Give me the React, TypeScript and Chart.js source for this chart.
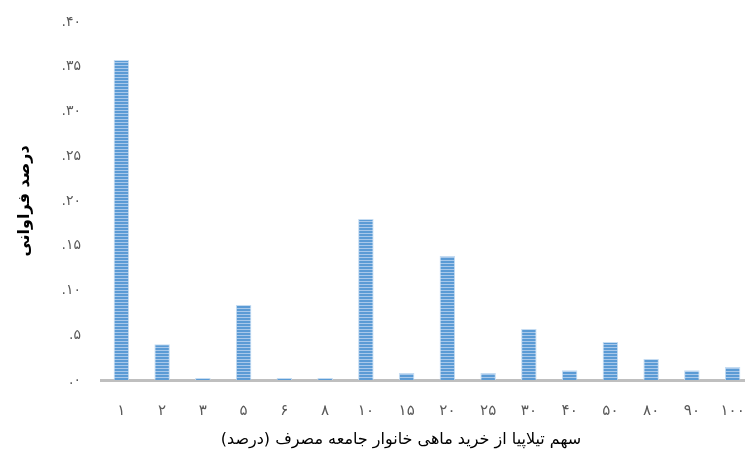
import React, { useEffect, useRef } from "react";
import { Chart, registerables } from "chart.js";

Chart.register(...registerables);

const categories = ["۱", "۲", "۳", "۵", "۶", "۸", "۱۰", "۱۵", "۲۰", "۲۵", "۳۰", "۴۰", "۵۰", "۸۰", "۹۰", "۱۰۰"];
const frequencies = [0.3575, 0.040, 0.0022, 0.0838, 0.0022, 0.0022, 0.180, 0.0078, 0.1385, 0.0078, 0.057, 0.011, 0.0425, 0.0235, 0.011, 0.0145];
const yTickLabels = [".۰", ".۵", ".۱۰", ".۱۵", ".۲۰", ".۲۵", ".۳۰", ".۳۵", ".۴۰"];
const xTitle = "سهم تیلاپیا از خرید ماهی خانوار جامعه مصرف (درصد)";
const yTitle = "درصد فراوانی";

const FONT = "'DejaVu Sans', 'Noto Sans', sans-serif";

function makePattern(): CanvasPattern | string {
  const c = document.createElement("canvas");
  c.width = 4;
  c.height = 3;
  const ctx = c.getContext("2d");
  if (!ctx) return "#5b9bd5";
  ctx.fillStyle = "#5b9bd5";
  ctx.fillRect(0, 0, 4, 3);
  ctx.fillStyle = "#a8c8ea";
  ctx.fillRect(0, 2, 4, 1);
  const p = ctx.createPattern(c, "repeat");
  return p || "#5b9bd5";
}

const xTitlePlugin = {
  id: "xTitlePlugin",
  afterDraw(chart: any) {
    const { ctx, chartArea } = chart;
    ctx.save();
    ctx.font = `16px ${FONT}`;
    ctx.fillStyle = "#000000";
    ctx.textAlign = "center";
    ctx.textBaseline = "middle";
    const cx = (chartArea.left + chartArea.right) / 2 - 26;
    ctx.fillText(xTitle, cx, chartArea.bottom + 60);
    ctx.restore();
  },
};

export default function App() {
  const ref = useRef<HTMLCanvasElement | null>(null);
  useEffect(() => {
    if (!ref.current) return;
    const chart = new Chart(ref.current, {
      type: "bar",
      data: {
        labels: categories,
        datasets: [
          {
            data: frequencies,
            backgroundColor: makePattern() as any,
            borderColor: "#c5dcf2",
            borderWidth: 1,
            barPercentage: 0.38,
            categoryPercentage: 1,
          },
        ],
      },
      options: {
        animation: false,
        responsive: false,
        maintainAspectRatio: false,
        layout: { padding: { top: 22, right: 7, bottom: 0, left: 0 } },
        plugins: {
          legend: { display: false },
          tooltip: { enabled: false },
        },
        scales: {
          x: {
            grid: { display: false },
            border: { display: true, color: "#bfbfbf", width: 3 },
            ticks: {
              color: "#595959",
              font: { family: FONT, size: 15 },
              padding: 14,
              maxRotation: 0,
              autoSkip: false,
            },
            afterFit(scale: any) {
              scale.height = 80;
            },
          },
          y: {
            min: 0,
            max: 0.4,
            grid: { display: false },
            border: { display: false },
            ticks: {
              stepSize: 0.05,
              color: "#595959",
              font: { family: FONT, size: 14 },
              padding: 12,
              callback: (_v: any, i: number) => yTickLabels[i],
            },
            title: {
              display: true,
              text: yTitle,
              color: "#000000",
              font: { family: FONT, size: 16, weight: "bold" },
              padding: { top: 15, bottom: 0 },
            },
            afterFit(scale: any) {
              scale.width = 101;
              scale.paddingTop = 0;
              scale.paddingBottom = 0;
            },
          },
        },
      },
      plugins: [xTitlePlugin],
    });
    return () => chart.destroy();
  }, []);
  return (
    <div style={{ position: "fixed", left: 0, top: 0, width: 745, height: 460, overflow: "hidden", background: "#ffffff" }}>
      <canvas ref={ref} width={760} height={460} style={{ width: 760, height: 460, display: "block" }} />
    </div>
  );
}
